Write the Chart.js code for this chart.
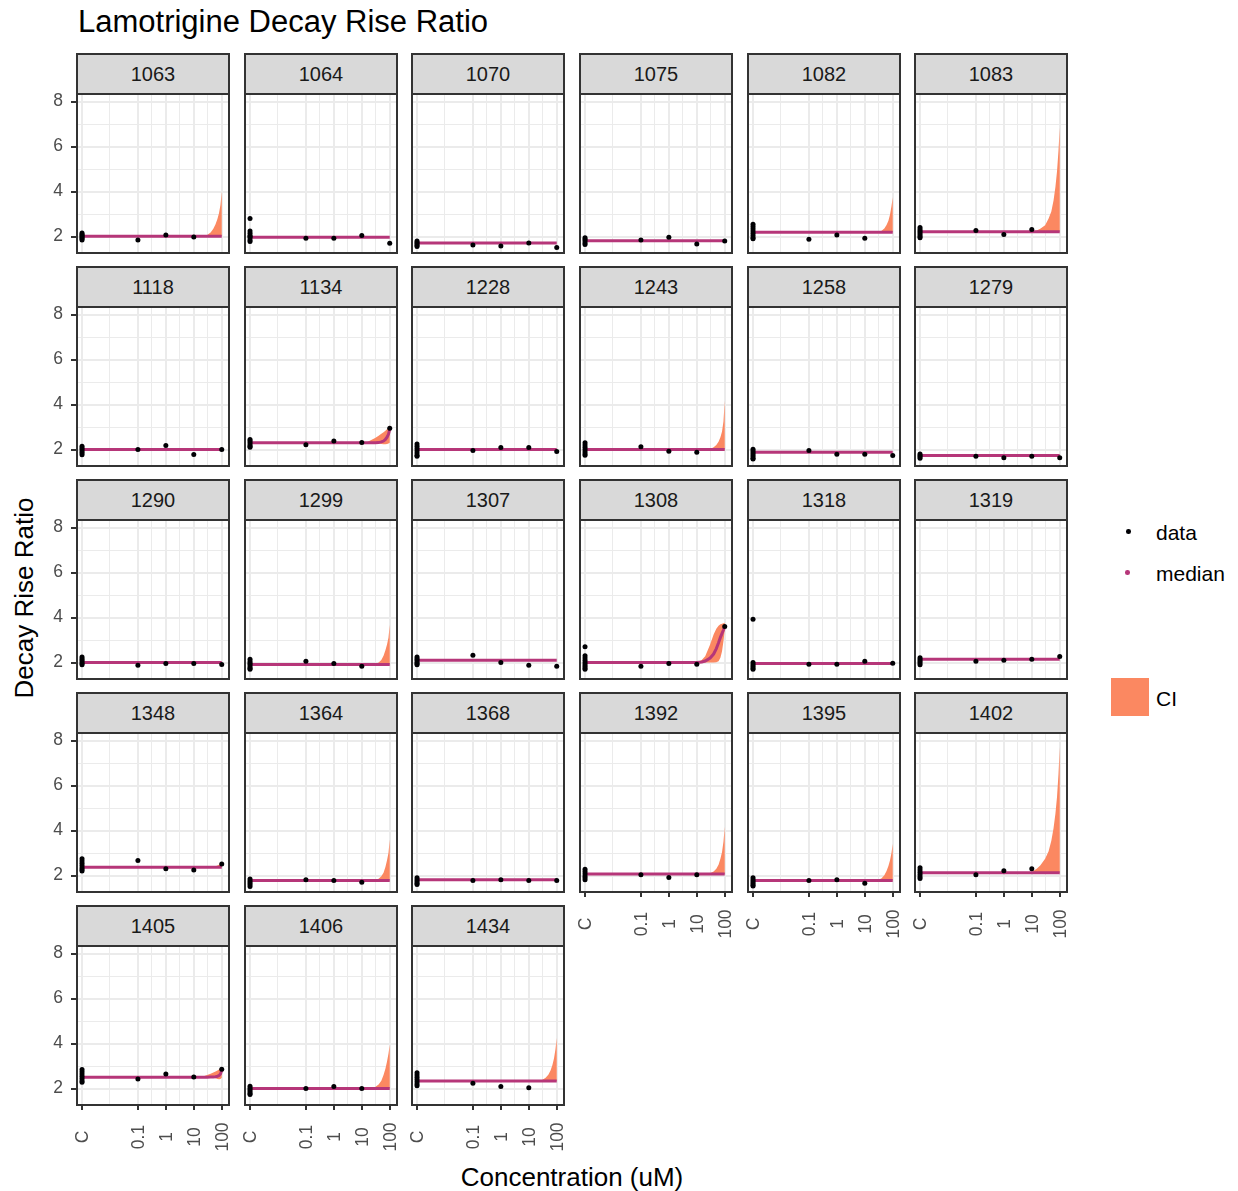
<!DOCTYPE html>
<html>
<head>
<meta charset="utf-8">
<script src="https://cdn.jsdelivr.net/npm/chart.js@4.4.1/dist/chart.umd.min.js"></script>
<style>
  html, body { margin: 0; padding: 0; background: #ffffff; }
  body { width: 1238px; height: 1191px; position: relative; overflow: hidden; font-family: "Liberation Sans", Arial, sans-serif; }
  .strip { position: absolute; box-sizing: border-box; background: #D9D9D9; border: 2px solid #333333; text-align: center; color: #1A1A1A; font-size: 20px; }
  .txt { position: absolute; white-space: nowrap; color: #000000; }
</style>
</head>
<body>
<div id="root"></div>
<script>
// ---------------- DATA ----------------
const panelIds = ['1063','1064','1070','1075','1082','1083','1118','1134','1228','1243','1258','1279','1290','1299','1307','1308','1318','1319','1348','1364','1368','1392','1395','1402','1405','1406','1434'];
const doseLabels = ['C', '0.1', '1', '10', '100'];
const doseConc = [0.001, 0.1, 1, 10, 100];
const xMinorGrid = [0.01, 0.3162, 3.162, 31.62];
const yMajorTicks = [2, 4, 6, 8];
const yMinorGrid = [3, 5, 7];

// replicate control measurements (plotted at "C")
const controlValues = [
  [2.16, 2.1, 2.05, 2.0, 1.95, 1.9, 1.85],
  [2.8, 2.25, 2.15, 2.05, 2.0, 1.95, 1.85, 1.78],
  [1.8, 1.74, 1.68, 1.62, 1.56],
  [1.95, 1.88, 1.8, 1.72, 1.65],
  [2.55, 2.45, 2.35, 2.25, 2.15, 2.05, 1.95, 1.9],
  [2.4, 2.32, 2.24, 2.16, 2.08, 2.0, 1.95],
  [2.15, 2.07, 2.0, 1.92, 1.85, 1.77],
  [2.45, 2.38, 2.3, 2.22, 2.15, 2.1],
  [2.25, 2.15, 2.05, 1.95, 1.85, 1.75, 1.7],
  [2.3, 2.2, 2.1, 2.0, 1.9, 1.82, 1.75],
  [2.02, 1.94, 1.86, 1.78, 1.7, 1.62, 1.58],
  [1.8, 1.74, 1.68, 1.62],
  [2.25, 2.17, 2.1, 2.03, 1.96, 1.9],
  [2.15, 2.05, 1.97, 1.9, 1.82, 1.75, 1.7],
  [2.25, 2.17, 2.1, 2.02, 1.95, 1.9],
  [2.7, 2.3, 2.2, 2.1, 2.0, 1.92, 1.84, 1.76, 1.7],
  [3.93, 2.0, 1.92, 1.84, 1.76, 1.7],
  [2.22, 2.14, 2.06, 1.98, 1.9],
  [2.75, 2.65, 2.55, 2.45, 2.35, 2.27, 2.2],
  [1.85, 1.76, 1.68, 1.6, 1.52],
  [1.9, 1.82, 1.74, 1.66, 1.6],
  [2.28, 2.18, 2.08, 1.98, 1.9, 1.82],
  [1.9, 1.82, 1.74, 1.66, 1.58, 1.54],
  [2.35, 2.25, 2.15, 2.05, 1.95, 1.87],
  [2.85, 2.75, 2.65, 2.55, 2.45, 2.35, 2.28],
  [2.1, 2.02, 1.94, 1.86, 1.78, 1.74],
  [2.7, 2.6, 2.5, 2.4, 2.3, 2.2, 2.13]
];

// measurements at 0.1, 1, 10, 100 uM (null = no point)
const treatedValues = [
  [1.85, 2.07, 1.98, null],
  [1.93, 1.93, 2.05, 1.7],
  [1.63, 1.58, 1.72, 1.52],
  [1.85, 1.97, 1.67, 1.8],
  [1.88, 2.07, 1.93, null],
  [2.27, 2.09, 2.31, null],
  [2.0, 2.18, 1.78, 2.0],
  [2.22, 2.38, 2.31, 2.95],
  [1.96, 2.09, 2.09, 1.91],
  [2.13, 1.93, 1.88, null],
  [1.96, 1.79, 1.79, 1.74],
  [1.7, 1.64, 1.7, 1.64],
  [1.88, 1.96, 1.96, 1.91],
  [2.06, 1.96, 1.84, null],
  [2.33, 2.0, 1.88, 1.84],
  [1.84, 1.96, 1.93, 3.6],
  [1.93, 1.93, 2.06, 1.97],
  [2.06, 2.1, 2.15, 2.27],
  [2.67, 2.3, 2.25, 2.52],
  [1.82, 1.78, 1.7, null],
  [1.78, 1.82, 1.78, 1.78],
  [2.04, 1.91, 2.04, null],
  [1.78, 1.82, 1.66, null],
  [2.04, 2.21, 2.3, null],
  [2.43, 2.65, 2.52, 2.86],
  [2.0, 2.09, 2.0, null],
  [2.24, 2.09, 2.04, null]
];

// flat level of the median fit
const medianLevel = [2.02, 1.97, 1.72, 1.82, 2.19, 2.22, 2.0, 2.3, 2.0, 2.0, 1.88, 1.74, 2.0, 1.91, 2.1, 2.0, 1.96, 2.15, 2.37, 1.78, 1.82, 2.07, 1.78, 2.13, 2.5, 2.0, 2.34];

// concentration grid for the high-dose part of the curves
const ciConc = [10, 15, 20, 30, 40, 50, 60, 70, 80, 90, 100];

// median curve where it departs from the flat level (null = flat)
const medianRise = [
  null, null, null, null, null, null, null,
  [2.3, 2.3, 2.3, 2.3, 2.31, 2.34, 2.38, 2.45, 2.55, 2.68, 2.9],
  null, null, null, null, null, null, null,
  [2.0, 2.03, 2.07, 2.2, 2.38, 2.62, 2.88, 3.12, 3.3, 3.45, 3.6],
  null, null, null, null, null, null, null, null,
  [2.5, 2.5, 2.5, 2.5, 2.51, 2.52, 2.53, 2.55, 2.58, 2.65, 2.8],
  null, null
];

// upper CI bound on ciConc (null = no visible band)
const ciUpper = [
  [2.02, 2.02, 2.02, 2.07, 2.18, 2.35, 2.55, 2.78, 3.05, 3.4, 4.0],
  null,
  null,
  null,
  [2.19, 2.19, 2.19, 2.19, 2.26, 2.36, 2.52, 2.7, 2.98, 3.35, 3.75],
  [2.22, 2.27, 2.35, 2.5, 2.8, 3.12, 3.6, 4.2, 4.9, 5.8, 6.85],
  null,
  [2.3, 2.33, 2.4, 2.52, 2.62, 2.7, 2.77, 2.84, 2.9, 2.98, 3.08],
  null,
  [2.0, 2.0, 2.0, 2.03, 2.1, 2.2, 2.35, 2.55, 2.8, 3.25, 4.18],
  null,
  null,
  null,
  [1.91, 1.91, 1.91, 1.93, 2.0, 2.12, 2.3, 2.55, 2.8, 3.1, 3.68],
  null,
  [2.02, 2.12, 2.28, 2.8, 3.25, 3.5, 3.64, 3.7, 3.73, 3.75, 3.77],
  null,
  [2.15, 2.15, 2.15, 2.15, 2.15, 2.16, 2.17, 2.18, 2.2, 2.24, 2.3],
  [2.37, 2.37, 2.37, 2.37, 2.38, 2.4, 2.42, 2.45, 2.48, 2.52, 2.56],
  [1.78, 1.78, 1.78, 1.8, 1.86, 1.97, 2.13, 2.38, 2.68, 3.0, 3.6],
  null,
  [2.07, 2.07, 2.07, 2.1, 2.18, 2.3, 2.48, 2.75, 3.05, 3.5, 4.17],
  [1.78, 1.78, 1.78, 1.8, 1.88, 2.02, 2.2, 2.43, 2.68, 3.0, 3.42],
  [2.16, 2.3, 2.45, 2.75, 3.08, 3.55, 4.1, 4.75, 5.5, 6.5, 7.72],
  [2.5, 2.5, 2.53, 2.6, 2.66, 2.72, 2.76, 2.8, 2.85, 2.9, 2.97],
  [2.0, 2.0, 2.01, 2.07, 2.18, 2.35, 2.6, 2.88, 3.2, 3.55, 3.95],
  [2.34, 2.34, 2.34, 2.38, 2.48, 2.62, 2.8, 3.05, 3.35, 3.75, 4.25]
];

// lower CI bound on ciConc where it departs from the median (null = median)
const ciLower = [
  null, null, null, null, null, null, null,
  [2.3, 2.3, 2.3, 2.3, 2.28, 2.25, 2.24, 2.24, 2.25, 2.27, 2.3],
  null, null, null, null, null, null, null,
  [2.0, 2.0, 2.0, 2.0, 2.0, 2.02, 2.06, 2.22, 2.5, 2.95, 3.45],
  null, null, null, null, null, null, null, null,
  [2.5, 2.5, 2.5, 2.5, 2.5, 2.5, 2.46, 2.43, 2.42, 2.43, 2.48],
  null, null
];

// ---------------- STYLE / LAYOUT ----------------
const FONT = '"Liberation Sans", Arial, sans-serif';
const TICK_SIZE = 17.5;
const COLOR_DATA = '#000004';
const COLOR_MEDIAN = '#B63679';
const COLOR_CI = '#FB8861';
const COL_X = [77, 245, 412, 580, 748, 915];
const ROW_Y = [94, 307, 520, 733, 946];
const PW = 152, PH = 159;
const X_MIN = Math.pow(10, -3.18), X_MAX = Math.pow(10, 2.26);
const Y_MIN = 1.27, Y_MAX = 8.34;

const root = document.getElementById('root');

function addText(text, left, top, size, extra) {
  const d = document.createElement('div');
  d.className = 'txt';
  d.textContent = text;
  d.style.left = left + 'px';
  d.style.top = top + 'px';
  d.style.fontSize = size + 'px';
  d.style.lineHeight = size + 'px';
  if (extra) Object.assign(d.style, extra);
  root.appendChild(d);
  return d;
}

// title and axis titles
addText('Lamotrigine Decay Rise Ratio', 78, 6, 31);
addText('Decay Rise Ratio', 24, 598, 26, { transform: 'translate(-50%, -50%) rotate(-90deg)' });
addText('Concentration (uM)', 572, 1177, 26, { transform: 'translate(-50%, -50%)' });

// legend
function legendDot(cx, cy, r, color) {
  const d = document.createElement('div');
  d.style.cssText = `position:absolute;left:${cx - r}px;top:${cy - r}px;width:${2 * r}px;height:${2 * r}px;border-radius:50%;background:${color};`;
  root.appendChild(d);
}
legendDot(1128.3, 531.7, 2.3, COLOR_DATA);
addText('data', 1156, 531.7, 21, { transform: 'translateY(-50%)' });
legendDot(1127.7, 572.7, 2.3, COLOR_MEDIAN);
addText('median', 1156, 572.7, 21, { transform: 'translateY(-50%)' });
(function () {
  const d = document.createElement('div');
  d.style.cssText = `position:absolute;left:1111px;top:678px;width:38px;height:38px;background:${COLOR_CI};`;
  root.appendChild(d);
})();
addText('CI', 1156, 697.5, 21, { transform: 'translateY(-50%)' });

// plugins
const panelBorder = {
  id: 'panelBorder',
  afterDatasetsDraw(chart) {
    const { ctx, chartArea: a } = chart;
    ctx.save();
    ctx.strokeStyle = '#333333';
    ctx.lineWidth = 2;
    ctx.strokeRect(a.left, a.top, a.right - a.left, a.bottom - a.top);
    ctx.restore();
  }
};
const xTickLabels = {
  id: 'xTickLabels',
  afterDraw(chart) {
    const { ctx, chartArea: a } = chart;
    const sx = chart.scales.x;
    ctx.save();
    ctx.fillStyle = '#4D4D4D';
    ctx.font = TICK_SIZE + 'px ' + FONT;
    ctx.textAlign = 'center';
    ctx.textBaseline = 'middle';
    doseConc.forEach((c, k) => {
      const x = sx.getPixelForValue(c);
      ctx.save();
      ctx.translate(x + 1, a.bottom + 32);
      ctx.rotate(-Math.PI / 2);
      ctx.fillText(doseLabels[k], 0, 0);
      ctx.restore();
    });
    ctx.restore();
  }
};

panelIds.forEach((id, i) => {
  const row = Math.floor(i / 6), col = i % 6;
  const px = COL_X[col], py = ROW_Y[row];
  const showY = col === 0;
  const showX = i >= 21;

  // strip
  const strip = document.createElement('div');
  strip.className = 'strip';
  strip.textContent = id;
  strip.style.left = (px - 1) + 'px';
  strip.style.top = (py - 41) + 'px';
  strip.style.width = (PW + 2) + 'px';
  strip.style.height = '42px';
  strip.style.lineHeight = '38px';
  root.appendChild(strip);

  const LM = showY ? 60 : 4, TM = 4, RM = 4, BM = showX ? 60 : 4;
  const cv = document.createElement('canvas');
  const W = LM + PW + RM, H = TM + PH + BM;
  cv.width = W; cv.height = H;
  cv.style.cssText = `position:absolute;left:${px - LM}px;top:${py - TM}px;width:${W}px;height:${H}px;`;
  root.appendChild(cv);

  // build series
  const pointData = [];
  controlValues[i].forEach(v => pointData.push({ x: doseConc[0], y: v }));
  treatedValues[i].forEach((v, k) => { if (v !== null) pointData.push({ x: doseConc[k + 1], y: v }); });

  const medAt = k => (medianRise[i] ? medianRise[i][k] : medianLevel[i]);
  const medianData = [{ x: doseConc[0], y: medianLevel[i] }];
  if (medianRise[i]) ciConc.forEach((c, k) => medianData.push({ x: c, y: medianRise[i][k] }));
  else medianData.push({ x: doseConc[4], y: medianLevel[i] });

  const datasets = [
    { label: 'data', data: pointData, showLine: false, pointRadius: 2.5, pointHoverRadius: 2.5,
      pointBackgroundColor: COLOR_DATA, pointBorderWidth: 0, borderWidth: 0 },
    { label: 'median', data: medianData, borderColor: COLOR_MEDIAN, borderWidth: 3, pointRadius: 0, fill: false }
  ];
  if (ciUpper[i]) {
    const poly = ciConc.map((c, k) => ({ x: c, y: ciUpper[i][k] }));
    for (let k = ciConc.length - 1; k >= 0; k--) {
      poly.push({ x: ciConc[k], y: ciLower[i] ? ciLower[i][k] : medAt(k) });
    }
    datasets.push({ label: 'CI', data: poly, borderWidth: 0, pointRadius: 0, backgroundColor: COLOR_CI, fill: 'shape' });
  }

  const isXMajor = v => doseConc.some(c => Math.abs(Math.log10(v) - Math.log10(c)) < 1e-6);
  const isYMajor = v => yMajorTicks.includes(v);

  new Chart(cv, {
    type: 'line',
    data: { datasets },
    options: {
      responsive: false,
      animation: false,
      events: [],
      layout: { padding: { left: showY ? 0 : 4, right: 4, top: 4, bottom: showX ? 0 : 4 } },
      plugins: { legend: { display: false }, tooltip: { enabled: false }, title: { display: false } },
      scales: {
        x: {
          type: 'logarithmic',
          min: X_MIN, max: X_MAX,
          bounds: 'data',
          afterBuildTicks: s => {
            s.ticks = doseConc.concat(xMinorGrid).sort((a, b) => a - b).map(v => ({ value: v }));
          },
          afterFit: s => {
            s.height = showX ? 60 : 0;
            s.paddingLeft = 0; s.paddingRight = 0; s.paddingTop = 0; s.paddingBottom = 0;
          },
          border: { display: false },
          grid: {
            color: '#EBEBEB',
            lineWidth: c => (c.tick && isXMajor(c.tick.value) ? 2 : 1),
            drawTicks: showX,
            tickLength: 5,
            tickWidth: 2,
            tickColor: c => (c.tick && isXMajor(c.tick.value) ? '#333333' : 'rgba(0,0,0,0)')
          },
          ticks: { display: false, autoSkip: false, callback: () => '' }
        },
        y: {
          type: 'linear',
          min: Y_MIN, max: Y_MAX,
          bounds: 'data',
          afterBuildTicks: s => {
            s.ticks = yMajorTicks.concat(yMinorGrid).sort((a, b) => a - b).map(v => ({ value: v }));
          },
          afterFit: s => {
            s.width = showY ? 60 : 0;
            s.paddingLeft = 0; s.paddingRight = 0; s.paddingTop = 0; s.paddingBottom = 0;
          },
          border: { display: false },
          grid: {
            color: '#EBEBEB',
            lineWidth: c => (c.tick && isYMajor(c.tick.value) ? 2 : 1),
            drawTicks: showY,
            tickLength: 6,
            tickWidth: 2,
            tickColor: c => (c.tick && isYMajor(c.tick.value) ? '#333333' : 'rgba(0,0,0,0)')
          },
          ticks: {
            display: showY,
            autoSkip: false,
            padding: 8,
            color: '#4D4D4D',
            font: { family: FONT, size: TICK_SIZE },
            callback: v => (yMajorTicks.includes(v) ? String(v) : '')
          }
        }
      }
    },
    plugins: showX ? [panelBorder, xTickLabels] : [panelBorder]
  });
});
</script>
</body>
</html>
